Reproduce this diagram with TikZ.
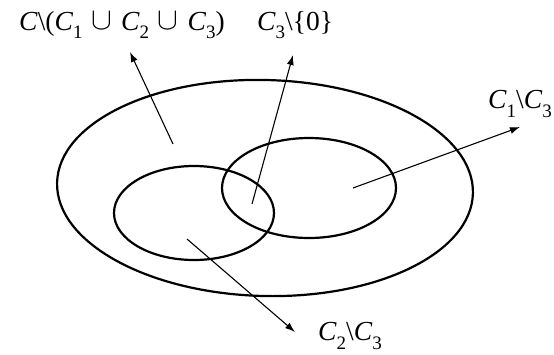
\documentclass[tikz,border=0pt]{standalone}
\usepackage{fontspec}
\setmainfont{Liberation Serif}
\usetikzlibrary{arrows.meta}
\newcommand\lowsub[1]{\raisebox{-0.3em}{\fontsize{19}{20}\selectfont #1}}
\newcommand\Cit{\textit{C}}
\newcommand\bigcupsym{\hspace{0.32em}\raisebox{0.03em}{\scalebox{1.25}{$\cup$}}\hspace{0.32em}}
\begin{document}
\begin{tikzpicture}[x=1pt,y=-1pt,
  setline/.style={line width=2.2pt},
  pointer/.style={line width=1.1pt,-{Latex[length=10pt,width=7pt]}},
  lbl/.style={inner sep=0pt,font=\fontsize{27.5}{30}\selectfont}]
\useasboundingbox (0,0) rectangle (554,354);
% sets
\draw[setline] (265,188) ellipse [x radius=208, y radius=108, rotate=-1.5];
\draw[setline] (309,188) ellipse [x radius=87, y radius=50];
\draw[setline] (194,213) ellipse [x radius=80, y radius=47];
% labels
\node[lbl] (lrest) at (122,25) {\Cit\textbackslash(\Cit\lowsub{1}\bigcupsym\Cit\lowsub{2}\bigcupsym\Cit\lowsub{3})};
\node[lbl] (lthree) at (295,25) {\Cit\lowsub{3}\textbackslash\{0\}};
\node[lbl] (lone) at (520,104) {\Cit\lowsub{1}\textbackslash\Cit\lowsub{3}};
\node[lbl] (ltwo) at (350,336) {\Cit\lowsub{2}\textbackslash\Cit\lowsub{3}};
% arrow ends
\coordinate (srest) at (173,144);
\coordinate (trest) at (130,52);
\coordinate (sthree) at (252,204);
\coordinate (tthree) at (293,55);
\coordinate (sone) at (353,188);
\coordinate (tone) at (520,127);
\coordinate (stwo) at (187,239);
\coordinate (ttwo) at (295,332);
\draw[pointer] (srest) -- (trest);
\draw[pointer] (sthree) -- (tthree);
\draw[pointer] (sone) -- (tone);
\draw[pointer] (stwo) -- (ttwo);
\end{tikzpicture}
\end{document}
